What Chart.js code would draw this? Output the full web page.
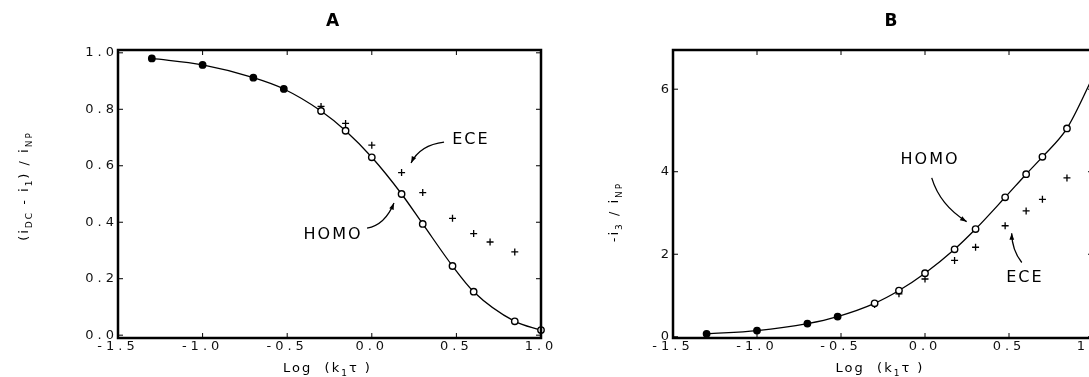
<!DOCTYPE html>
<html>
<head>
<meta charset="utf-8">
<script src="https://cdn.jsdelivr.net/npm/chart.js@4"></script>
<style>
    html, body { margin: 0; padding: 0; background: #fff; overflow: hidden; width: 1089px; height: 377px; }
    #canvasA { position: absolute; left: 0; top: 0; }
    #canvasB { position: absolute; left: 560px; top: 0; }
</style>
</head>
<body>
<canvas id="canvasA" width="560" height="377"></canvas>
<canvas id="canvasB" width="560" height="377"></canvas>
<script>
'use strict';

// panel A : (iDC - i1) / iNP against log(k1 tau)
const logKtA = [-1.30, -1.00, -0.70, -0.52, -0.30, -0.155, 0.0, 0.176, 0.301, 0.477, 0.602, 0.845, 1.0];
const homoA = [0.98, 0.957, 0.912, 0.872, 0.794, 0.724, 0.63, 0.50, 0.394, 0.245, 0.154, 0.049, 0.018];
const logKtEceA = [-0.30, -0.155, 0.0, 0.176, 0.301, 0.477, 0.602, 0.699, 0.845];
const eceA = [0.81, 0.75, 0.673, 0.576, 0.505, 0.414, 0.36, 0.33, 0.295];
const xTicksA = [-1.5, -1.0, -0.5, 0.0, 0.5, 1.0];
const yTicksA = [0.0, 0.2, 0.4, 0.6, 0.8, 1.0];

// panel B : -i3 / iNP against log(k1 tau)
const logKtB = [-1.30, -1.00, -0.70, -0.52, -0.30, -0.155, 0.0, 0.176, 0.301, 0.477, 0.602, 0.699, 0.845, 1.0];
const homoB = [0.07, 0.15, 0.32, 0.49, 0.81, 1.12, 1.54, 2.12, 2.61, 3.38, 3.94, 4.36, 5.05, 6.3];
const logKtEceB = [-0.30, -0.155, 0.0, 0.176, 0.301, 0.477, 0.602, 0.699, 0.845];
const eceB = [0.78, 1.04, 1.40, 1.85, 2.17, 2.69, 3.05, 3.33, 3.85];
const xTicksB = [-1.5, -1.0, -0.5, 0.0, 0.5, 1.0];
const yTicksB = [0, 2, 4, 6];

const FONT = '"DejaVu Sans", sans-serif';

function pts(xs, ys) {
    return xs.map((v, i) => ({ x: v, y: ys[i] }));
}

function font(size, bold) {
    return (bold ? 'bold ' : '') + size + 'px ' + FONT;
}

// text with subscripts, centred on 0,0
function drawRich(ctx, parts, size) {
    ctx.textAlign = 'left';
    ctx.textBaseline = 'middle';
    let widths = parts.map(p => {
        ctx.font = font(p.sub ? Math.round(size * 0.72) : size);
        return ctx.measureText(p.t).width;
    });
    let total = widths.reduce((a, b) => a + b, 0);
    let x = -total / 2;
    parts.forEach((p, i) => {
        ctx.font = font(p.sub ? Math.round(size * 0.72) : size);
        ctx.fillText(p.t, x, p.sub ? size * 0.38 : 0);
        x += widths[i];
    });
}

function arrow(ctx, x, y, n) {
    let p0 = [x.getPixelForValue(n.from[0]), y.getPixelForValue(n.from[1])];
    let p1 = [x.getPixelForValue(n.via[0]), y.getPixelForValue(n.via[1])];
    let p2 = [x.getPixelForValue(n.to[0]), y.getPixelForValue(n.to[1])];
    ctx.beginPath();
    ctx.moveTo(p0[0], p0[1]);
    ctx.quadraticCurveTo(p1[0], p1[1], p2[0], p2[1]);
    ctx.lineWidth = 1.3;
    ctx.stroke();
    let ang = Math.atan2(p2[1] - p1[1], p2[0] - p1[0]);
    ctx.beginPath();
    ctx.moveTo(p2[0], p2[1]);
    ctx.lineTo(p2[0] - 7 * Math.cos(ang - 0.35), p2[1] - 7 * Math.sin(ang - 0.35));
    ctx.lineTo(p2[0] - 7 * Math.cos(ang + 0.35), p2[1] - 7 * Math.sin(ang + 0.35));
    ctx.closePath();
    ctx.fill();
}

const paperFrame = {
    id: 'paperFrame',
    beforeDraw(chart) {
        chart.ctx.letterSpacing = '4px';
    },
    afterDraw(chart, args, opts) {
        let ctx = chart.ctx;
        let a = chart.chartArea;
        let x = chart.scales.x;
        let y = chart.scales.y;
        ctx.save();
        ctx.letterSpacing = '0px';
        ctx.strokeStyle = '#000';
        ctx.fillStyle = '#000';

        // frame and inward ticks
        ctx.lineWidth = 2.5;
        ctx.strokeRect(a.left, a.top, a.right - a.left, a.bottom - a.top);
        ctx.lineWidth = 1;
        ctx.beginPath();
        x.ticks.forEach(t => {
            let p = x.getPixelForValue(t.value);
            ctx.moveTo(p, a.top); ctx.lineTo(p, a.top + 5);
            ctx.moveTo(p, a.bottom); ctx.lineTo(p, a.bottom - 5);
        });
        y.ticks.forEach(t => {
            let p = y.getPixelForValue(t.value);
            ctx.moveTo(a.left, p); ctx.lineTo(a.left + 5, p);
            ctx.moveTo(a.right, p); ctx.lineTo(a.right - 5, p);
        });
        ctx.stroke();

        // panel letter
        ctx.font = font(17, true);
        ctx.textAlign = 'center';
        ctx.textBaseline = 'middle';
        ctx.fillText(opts.title, (a.left + a.right) / 2 + opts.titleShift, 22);

        // axis titles
        ctx.letterSpacing = '2px';
        ctx.save();
        ctx.translate((a.left + a.right) / 2 + opts.xTitleShift, 369);
        drawRich(ctx, [{ t: 'Log  (k' }, { t: '1', sub: true }, { t: 'τ )' }], 13);
        ctx.restore();

        ctx.save();
        ctx.translate(opts.yTitleX, opts.yTitleY);
        ctx.rotate(-Math.PI / 2);
        drawRich(ctx, opts.yTitle, 13);
        ctx.restore();

        // notes with arrows
        ctx.letterSpacing = '2px';
        opts.notes.forEach(n => {
            ctx.font = font(16);
            ctx.textAlign = 'center';
            ctx.textBaseline = 'middle';
            ctx.fillText(n.text, x.getPixelForValue(n.x), y.getPixelForValue(n.y));
            arrow(ctx, x, y, n);
        });
        ctx.restore();
    }
};

function makeChart(canvas, cfg) {
    return new Chart(canvas, {
        type: 'scatter',
        data: {
            datasets: [
                {
                    label: 'HOMO',
                    data: pts(cfg.xs, cfg.homo),
                    showLine: true,
                    cubicInterpolationMode: 'monotone',
                    borderColor: '#000',
                    borderWidth: 1.3,
                    pointRadius: 3.2,
                    pointBorderWidth: 1.4,
                    pointBorderColor: '#000',
                    pointBackgroundColor: c => (c.raw && c.raw.x < cfg.filledBelow) ? '#000' : '#fff',
                    clip: false,
                },
                {
                    label: 'ECE',
                    data: pts(cfg.xsEce, cfg.ece),
                    showLine: false,
                    pointStyle: 'cross',
                    pointRadius: 3.5,
                    pointBorderWidth: 1.3,
                    pointBorderColor: '#000',
                    clip: false,
                },
            ],
        },
        options: {
            responsive: false,
            animation: false,
            layout: { padding: cfg.padding },
            plugins: {
                legend: { display: false },
                tooltip: { enabled: false },
                paperFrame: {
                    title: cfg.title,
                    titleShift: cfg.titleShift,
                    xTitleShift: cfg.xTitleShift,
                    yTitle: cfg.yTitle,
                    yTitleX: cfg.yTitleX,
                    yTitleY: cfg.yTitleY,
                    notes: cfg.notes,
                },
            },
            scales: {
                x: {
                    type: 'linear',
                    min: cfg.xMin, max: cfg.xMax,
                    afterBuildTicks: s => { s.ticks = cfg.xTicks.map(v => ({ value: v })); },
                    afterFit: s => { s.height = 20; },
                    grid: { display: false, drawTicks: false, tickLength: 0 },
                    border: { display: false },
                    ticks: {
                        padding: 1,
                        maxRotation: 0,
                        color: '#111',
                        font: { family: FONT, size: 13 },
                        callback: v => v.toFixed(1),
                    },
                },
                y: {
                    type: 'linear',
                    min: cfg.yMin, max: cfg.yMax,
                    afterBuildTicks: s => { s.ticks = cfg.yTicks.map(v => ({ value: v })); },
                    afterFit: s => { s.width = cfg.yWidth; },
                    grid: { display: false, drawTicks: false, tickLength: 0 },
                    border: { display: false },
                    ticks: {
                        padding: 0,
                        color: '#111',
                        font: { family: FONT, size: 13 },
                        callback: v => cfg.yDigits ? v.toFixed(cfg.yDigits) : String(v),
                    },
                },
            },
        },
        plugins: [paperFrame],
    });
}

let chartA = makeChart(document.querySelector('#canvasA'), {
    xs: logKtA, homo: homoA, xsEce: logKtEceA, ece: eceA,
    xTicks: xTicksA, yTicks: yTicksA,
    xMin: -1.5, xMax: 1.0, yMin: -0.01, yMax: 1.01, yDigits: 1,
    yWidth: 60,
    padding: { left: 58, top: 50, right: 19, bottom: 19 },
    filledBelow: -0.4,
    title: 'A', titleShift: 3, xTitleShift: -2,
    yTitle: [{ t: '(i' }, { t: 'DC', sub: true }, { t: ' - i' }, { t: '1', sub: true }, { t: ') / i' }, { t: 'NP', sub: true }],
    yTitleX: 25, yTitleY: 186,
    notes: [
        { text: 'ECE', x: 0.586, y: 0.691, from: [0.427, 0.684], via: [0.285, 0.674], to: [0.232, 0.61] },
        { text: 'HOMO', x: -0.229, y: 0.355, from: [-0.028, 0.379], via: [0.078, 0.39], to: [0.131, 0.468] },
    ],
});

let chartB = makeChart(document.querySelector('#canvasB'), {
    xs: logKtB, homo: homoB, xsEce: logKtEceB, ece: eceB,
    xTicks: xTicksB, yTicks: yTicksB,
    xMin: -1.5, xMax: 1.0, yMin: -0.03, yMax: 6.95, yDigits: 0,
    yWidth: 30,
    padding: { left: 83, top: 50, right: 27, bottom: 19 },
    filledBelow: -0.4,
    title: 'B', titleShift: 8, xTitleShift: -3,
    yTitle: [{ t: '-i' }, { t: '3', sub: true }, { t: ' / i' }, { t: 'NP', sub: true }],
    yTitleX: 55, yTitleY: 212,
    notes: [
        { text: 'HOMO', x: 0.03, y: 4.28, from: [0.04, 3.85], via: [0.089, 3.19], to: [0.248, 2.79] },
        { text: 'ECE', x: 0.595, y: 1.43, from: [0.576, 1.80], via: [0.518, 2.10], to: [0.516, 2.51] },
    ],
});
</script>
</body>
</html>
